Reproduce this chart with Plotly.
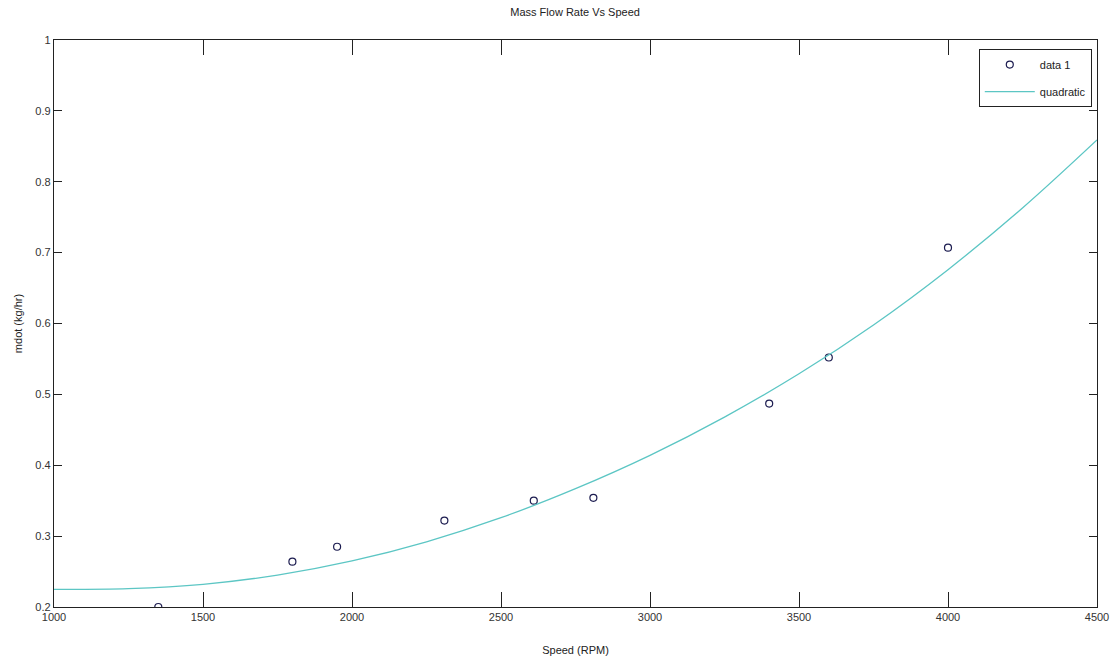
import plotly.graph_objects as go

# Measured data
speed_data = [1350, 1800, 1950, 2310, 2610, 2810, 3400, 3600, 4000]
mdot_data = [0.200, 0.264, 0.285, 0.322, 0.350, 0.354, 0.487, 0.552, 0.707]

# Quadratic fit curve
speed_fit = [1000, 1250, 1500, 1750, 2000, 2250, 2500, 2750, 3000, 3250, 3500, 3750, 4000, 4250, 4500]
mdot_fit = [0.225, 0.226, 0.232, 0.245, 0.265, 0.292, 0.326, 0.367, 0.414, 0.468, 0.529, 0.598, 0.676, 0.763, 0.859]

x_ticks = [1000, 1500, 2000, 2500, 3000, 3500, 4000, 4500]
y_ticks = [0.2, 0.3, 0.4, 0.5, 0.6, 0.7, 0.8, 0.9, 1.0]
y_ticktext = ["0.2", "0.3", "0.4", "0.5", "0.6", "0.7", "0.8", "0.9", "1"]

FONT = "Liberation Sans, Arial"

fig = go.Figure()
fig.add_trace(go.Scatter(
    x=speed_data, y=mdot_data, mode="markers", name="data 1", legendgroup="a",
    marker=dict(symbol="circle-open", size=7, color="#1c1c50", line=dict(width=1.2)),
))
fig.add_trace(go.Scatter(
    x=speed_fit, y=mdot_fit, mode="lines", name="quadratic", legendgroup="b",
    line=dict(color="#5cc6c4", width=1.3, shape="spline"),
))

axis_common = dict(
    showgrid=False, zeroline=False, showline=True, linecolor="#222", linewidth=1.3,
    mirror="ticks", ticks="inside", tickcolor="#222", tickwidth=1.2, automargin=False,
    tickfont=dict(family=FONT, size=11, color="#333"),
)

fig.update_layout(
    width=1113, height=668,
    paper_bgcolor="white", plot_bgcolor="white",
    margin=dict(l=54, r=16, t=40, b=61, autoexpand=False),
    title=dict(text="Mass Flow Rate Vs Speed", x=0.5167, xanchor="center",
               yref="container", y=1 - 12 / 668, yanchor="middle",
               font=dict(family=FONT, size=11, color="#222")),
    xaxis=dict(range=[1000, 4500], tickvals=x_ticks, ticklen=15,
               title=dict(text="Speed (RPM)", standoff=23,
                          font=dict(family=FONT, size=11, color="#222")),
               **axis_common),
    yaxis=dict(range=[0.2, 1.0], tickvals=y_ticks, ticktext=y_ticktext, ticklen=8,
               title=dict(text="mdot (kg/hr)", standoff=10,
                          font=dict(family=FONT, size=11, color="#222")),
               **axis_common),
    legend=dict(x=0.995, y=0.984, xanchor="right", yanchor="top",
                bgcolor="white", bordercolor="#222", borderwidth=1,
                font=dict(family=FONT, size=11, color="#222"),
                itemwidth=50, tracegroupgap=8),
    showlegend=True,
)

fig.write_html("out.html", config={"displayModeBar": False},
               post_script="document.body.style.margin='0px';")
